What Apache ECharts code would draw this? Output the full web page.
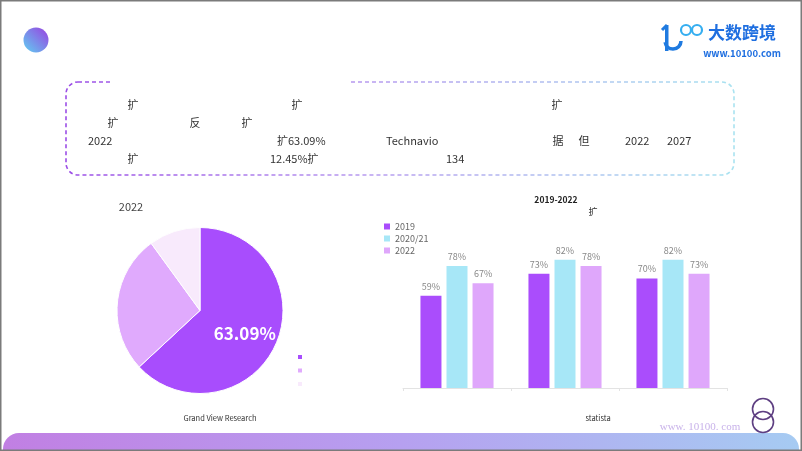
<!DOCTYPE html>
<html>
<head>
<meta charset="utf-8">
<script src="https://cdn.jsdelivr.net/npm/echarts@6/dist/echarts.min.js"></script>
<style>
html,body{margin:0;padding:0;background:#fff;}
#chart{width:802px;height:451px;}
</style>
</head>
<body>
<div id="chart"></div>
<script>
// ---- data ----
const barCategories = ['类别一', '类别二', '类别三'];
const barSeriesNames = ['2019', '2020/21', '2022'];
const values2019 = [59, 73, 70];
const values2021 = [78, 82, 82];
const values2022 = [67, 78, 73];
const pieNames = ['份额一', '份额二', '份额三'];
const pieValues = [63.09, 26.91, 10.00];
const yTicks = [0, 100];

const FONT = '"Noto Sans CJK SC","Noto Sans",sans-serif';
const chart = echarts.init(document.getElementById('chart'), null, {renderer: 'canvas'});

function txt(t, x, y, size, color, align, weight, family) {
  return {
    type: 'text', silent: true, z: 10,
    style: {
      text: t, x: x, y: y, fill: color || '#333',
      font: (weight || 'normal') + ' ' + size + 'px ' + (family || FONT),
      textAlign: align || 'left', textVerticalAlign: 'middle'
    }
  };
}

const graphics = [
  // outer frame
  {type: 'rect', silent: true, z: 1, shape: {x: 0.75, y: 0.75, width: 800.5, height: 449.5},
   style: {fill: 'none', stroke: '#7b7b7b', lineWidth: 1.5}},
  // top-left circle
  {type: 'circle', silent: true, shape: {cx: 36, cy: 40, r: 12.5},
   style: {fill: new echarts.graphic.LinearGradient(1, 0, 0, 1, [
     {offset: 0, color: '#9a3fe0'}, {offset: 1, color: '#5fd0f2'}])}},
  // logo top-right
  {type: 'arc', silent: true, shape: {cx: 673, cy: 41, r: 8, startAngle: Math.PI * 0.0, endAngle: Math.PI * 0.95},
   style: {stroke: '#1f7ae0', lineWidth: 3.5, fill: 'none'}},
  {type: 'line', silent: true, shape: {x1: 662, y1: 30, x2: 667, y2: 25},
   style: {stroke: '#1f7ae0', lineWidth: 3}},
  {type: 'rect', silent: true, shape: {x: 665, y: 25, width: 3.5, height: 26},
   style: {fill: '#1f7ae0'}},
  {type: 'circle', silent: true, shape: {cx: 686, cy: 30, r: 5},
   style: {stroke: '#35aef0', lineWidth: 2.2, fill: 'none'}},
  {type: 'circle', silent: true, shape: {cx: 697, cy: 30, r: 5},
   style: {stroke: '#35aef0', lineWidth: 2.2, fill: 'none'}},
  txt('大数跨境', 742, 33, 17, '#1f6fe0', 'center', 'bold'),
  txt('www.10100.com', 742, 53, 9.5, '#1f6fe0', 'center', 'bold'),
  // dashed box
  {type: 'rect', silent: true, shape: {x: 66, y: 82, width: 668, height: 93, r: 12},
   style: {fill: 'none', lineWidth: 1.6, lineDash: [4, 3],
     stroke: new echarts.graphic.LinearGradient(0, 0, 1, 0, [
       {offset: 0, color: '#9b4de6'}, {offset: 0.45, color: '#b79bef'}, {offset: 1, color: '#a9e3f0'}])}},
  {type: 'rect', silent: true, z: 2, shape: {x: 113, y: 79, width: 235, height: 7},
   style: {fill: '#fff'}},
  // box text
  txt('扩', 133, 105, 11, '#333', 'center'),
  txt('扩', 297, 105, 11, '#333', 'center'),
  txt('扩', 557, 105, 11, '#333', 'center'),
  txt('扩', 113, 123, 11, '#333', 'center'),
  txt('反', 195, 123, 11, '#333', 'center'),
  txt('扩', 247, 123, 11, '#333', 'center'),
  txt('2022', 88, 141, 11, '#333', 'left'),
  txt('扩63.09%', 277, 141, 11, '#333', 'left'),
  txt('Technavio', 386, 141, 11, '#333', 'left'),
  txt('据', 558, 141, 11, '#333', 'center'),
  txt('但', 584, 141, 11, '#333', 'center'),
  txt('2022', 625, 141, 11, '#333', 'left'),
  txt('2027', 667, 141, 11, '#333', 'left'),
  txt('扩', 133, 159, 11, '#333', 'center'),
  txt('12.45%扩', 270, 159, 11, '#333', 'left'),
  txt('134', 446, 159, 11, '#333', 'left'),
  // pie titles
  txt('2022', 131, 207, 11, '#444', 'center'),
  txt('Grand View Research', 220, 418, 7.5, '#333', 'center'),
  // bar titles
  txt('2019-2022', 556, 200, 8.5, '#222', 'center', 'bold'),
  txt('扩', 593, 212, 9, '#333', 'center'),
  txt('statista', 598, 418, 7.5, '#333', 'center'),
  // bottom band
  {type: 'rect', silent: true, z: 0, shape: {x: 3, y: 433, width: 796, height: 17, r: [16, 16, 0, 0]},
   style: {fill: new echarts.graphic.LinearGradient(0, 0, 1, 0, [
     {offset: 0, color: '#c17fe3'}, {offset: 0.5, color: '#b6a0f0'}, {offset: 1, color: '#a6cbf2'}])}},
  // watermark + logo circles
  txt('www. 10100. com', 700, 427, 11, '#c9b3ea', 'center', 'normal', '"Liberation Serif","DejaVu Serif",serif'),
  {type: 'circle', silent: true, shape: {cx: 763, cy: 409, r: 10.5},
   style: {stroke: '#5e3f82', lineWidth: 1.6, fill: 'none'}},
  {type: 'circle', silent: true, shape: {cx: 763, cy: 422, r: 10.5},
   style: {stroke: '#5e3f82', lineWidth: 1.6, fill: 'none'}}
];

const barColors = ['#aa4dfc', '#a7e7f7', '#dfa7fb'];
const pieColors = ['#a84dfd', '#e0aafd', '#f8eafc'];

const barLabel = {show: true, position: 'top', distance: 5, color: '#888', fontSize: 9, fontFamily: FONT, formatter: '{c}%'};

const option = {
  animation: false,
  backgroundColor: '#fff',
  graphic: graphics,
  legend: [
    {
      data: barSeriesNames, orient: 'vertical', left: 384, top: 222,
      itemWidth: 6, itemHeight: 6, itemGap: 3, padding: 0, icon: 'rect',
      textStyle: {fontSize: 9, color: '#666', fontFamily: FONT}
    },
    {
      data: pieNames, orient: 'vertical', left: 296, top: 353,
      itemWidth: 6, itemHeight: 6, itemGap: 5.5, padding: 0, icon: 'rect',
      formatter: function () { return ''; },
      textStyle: {fontSize: 6}
    }
  ],
  grid: {left: 403, right: 75, top: 231.5, bottom: 63, containLabel: false},
  xAxis: {
    type: 'category', data: barCategories,
    axisLine: {lineStyle: {color: '#e3e3e3'}},
    axisTick: {show: true, length: 3, lineStyle: {color: '#e3e3e3'}},
    axisLabel: {show: false}
  },
  yAxis: {
    type: 'value', min: yTicks[0], max: yTicks[1], show: false
  },
  series: [
    {name: barSeriesNames[0], type: 'bar', data: values2019, barWidth: 21, barGap: '24%', itemStyle: {color: barColors[0]}, label: barLabel},
    {name: barSeriesNames[1], type: 'bar', data: values2021, barWidth: 21, barGap: '24%', itemStyle: {color: barColors[1]}, label: barLabel},
    {name: barSeriesNames[2], type: 'bar', data: values2022, barWidth: 21, barGap: '24%', itemStyle: {color: barColors[2]}, label: barLabel},
    {
      type: 'pie', center: [200, 310.5], radius: 83, startAngle: 90, clockwise: true,
      itemStyle: {borderColor: '#fff', borderWidth: 1},
      labelLine: {show: false},
      data: pieNames.map(function (n, i) {
        return {
          name: n, value: pieValues[i], itemStyle: {color: pieColors[i]},
          label: i === 0 ? {show: true, position: 'inside', formatter: '{c}%', color: '#fff',
                             fontSize: 17, fontWeight: 'bold', fontFamily: FONT, offset: [4, 5]}
                         : {show: false}
        };
      })
    }
  ]
};
chart.setOption(option);
</script>
</body>
</html>
